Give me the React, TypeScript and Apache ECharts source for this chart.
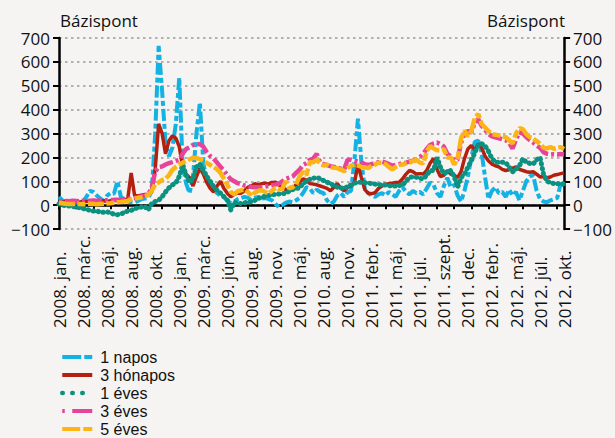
import React, { useEffect, useRef } from "react";
import * as echarts from "echarts";

const tickLabels = [
  "2008. jan.", "2008. márc.", "2008. máj.", "2008. aug.", "2008. okt.",
  "2009. jan.", "2009. márc.", "2009. jún.", "2009. aug.", "2009. nov.",
  "2010. máj.", "2010. aug.", "2010. nov.",
  "2011. febr.", "2011. máj.", "2011. júl.", "2011. szept.", "2011. dec.",
  "2012. febr.", "2012. máj.", "2012. júl.", "2012. okt.",
];
const POINTS_PER_LABEL = 7;

const napos1 = [
  35, 20, 15, 15, 12, 10, 12, 15,
  35, 60, 55, 40, 28, 18, 40, 50,
  48, 100, 35, 25, 15, 12, 10, 18,
  25, 28, 30, 60, 300, 667, 480, 260,
  205, 240, 340, 535, 160, 90, 50, 120,
  300, 430, 175, 110, 80, 60, 50, 40,
  35, 20, 8, 15, 25, 30, 35, 30,
  20, 30, 35, 28, 30, 25, 20, 5,
  -8, 0, 10, 15, 12, 20, 30, 50,
  75, 70, 50, 65, 55, 50, 20, 5,
  15, 40, 50, 35, 55, 60, 190, 362,
  180, 70, 50, 40, 35, 45, 50, 40,
  55, 45, 35, 60, 75, 55, 45, 60,
  50, 55, 45, 70, 95, 85, 50, 35,
  80, 115, 75, 85, 40, 15, 60, 120,
  200, 265, 270, 220, 115, 25, 60, 75,
  50, 55, 35, 65, 40, 55, 20, 60,
  100, 120, 125, 60, 25, 15, 12, 20,
  25, 30, 90, 80,
];

const honapos3 = [
  15, 12, 15, 12, 15, 15, 12, 15,
  15, 18, 15, 12, 15, 18, 15, 18,
  20, 18, 22, 20, 25, 135, 40, 38,
  42, 45, 45, 55, 150, 340, 300, 215,
  270, 290, 280, 245, 160, 130, 115, 80,
  120, 155, 130, 95, 70, 55, 80, 100,
  70, 50, 35, 45, 50, 50, 60, 75,
  80, 90, 85, 90, 92, 88, 95, 96,
  85, 75, 65, 60, 70, 85, 95, 110,
  105, 90, 88, 85, 80, 75, 70, 60,
  75, 90, 70, 60, 75, 80, 95, 170,
  115, 65, 50, 48, 52, 70, 80, 88,
  90, 92, 95, 96, 110, 130, 145, 140,
  130, 132, 130, 145, 175, 195, 150, 120,
  125, 145, 130, 125, 115, 140, 195, 235,
  250, 230, 257, 240, 205, 185, 172, 165,
  160, 150, 145, 148, 155, 160, 150, 145,
  140, 138, 140, 130, 118, 120, 115, 118,
  125, 128, 132, 135,
];

const eves1 = [
  5, 0, -3, -4, -6, -8, -11, -14,
  -18, -22, -25, -24, -30, -30, -28, -33,
  -38, -40, -38, -30, -25, -22, -15, -11,
  -8, -5, -20, 8, 15, 20, 35, 55,
  72, 85, 92, 120, 170, 125, 95, 110,
  160, 172, 145, 120, 100, 78, 62, 50,
  35, 20, -20, 12, 8, 7, 10, 12,
  14, 20, 28, 32, 38, 40, 45, 45,
  47, 48, 50, 58, 65, 70, 72, 90,
  100, 108, 112, 117, 110, 103, 96, 90,
  82, 75, 72, 70, 78, 85, 92, 96,
  96, 94, 92, 90, 88, 86, 85, 84,
  82, 80, 80, 82, 85, 100, 117, 118,
  117, 112, 110, 125, 145, 145, 200, 160,
  131, 140, 145, 120, 75, 115, 130, 160,
  185, 220, 250, 257, 248, 225, 195, 180,
  180, 180, 178, 160, 140, 150, 165, 195,
  180, 175, 172, 190, 200, 130, 100, 95,
  90, 90, 90, 90,
];

const eves3 = [
  17, 16, 17, 16, 18, 17, 16, 18,
  17, 18, 19, 18, 19, 20, 20, 21,
  22, 22, 24, 25, 27, 28, 30, 32,
  36, 40, 45, 75, 140, 160, 162, 170,
  176, 180, 185, 190, 215, 235, 242, 252,
  257, 255, 245, 222, 205, 195, 178, 160,
  145, 125, 108, 100, 92, 88, 82, 80,
  76, 75, 75, 76, 78, 80, 83, 86,
  90, 100, 110, 115, 120, 135, 148, 168,
  175, 190, 195, 215, 178, 172, 168, 163,
  160, 157, 153, 150, 190, 190, 186, 182,
  178, 172, 168, 172, 175, 180, 182, 178,
  172, 165, 168, 172, 176, 178, 182, 186,
  190, 200, 215, 235, 252, 258, 262, 255,
  245, 215, 205, 188, 190, 260, 300, 310,
  305, 345, 360, 332, 315, 298, 288, 284,
  280, 276, 272, 260, 237, 275, 305, 300,
  285, 272, 262, 250, 240, 222, 215, 212,
  213, 212, 214, 212,
];

const eves5 = [
  10, 8, 6, 5, 5, 6, 5, 4,
  5, 6, 5, 4, 5, 6, 7, 8,
  10, 12, 13, 15, 18, 24, 27, 30,
  33, 38, 42, 60, 88, 95, 105, 110,
  125, 148, 160, 170, 178, 185, 192, 198,
  197, 193, 185, 177, 168, 160, 150, 135,
  110, 85, 55, 45, 58, 62, 65, 55,
  38, 52, 60, 62, 55, 48, 60, 72,
  65, 70, 100, 70, 75, 86, 120, 140,
  125, 180, 180, 190, 175, 165, 170, 160,
  156, 155, 148, 142, 155, 165, 170, 166,
  160, 158, 155, 165, 170, 178, 178, 172,
  160, 150, 160, 168, 170, 175, 178, 185,
  190, 178, 175, 225, 248, 237, 230, 230,
  235, 200, 200, 170, 195, 280, 312, 288,
  310, 365, 382, 340, 325, 310, 298, 295,
  292, 288, 285, 272, 258, 300, 322, 318,
  298, 285, 278, 268, 257, 240, 238, 243,
  236, 240, 243, 235,
];

const seriesNames = ["1 napos", "3 hónapos", "1 éves", "3 éves", "5 éves"];
const seriesColors = ["#14B1E3", "#B3200F", "#0B9180", "#E8439A", "#FDB515"];

const FONT = "'Open Sans', 'DejaVu Sans', sans-serif";
const LEGEND_FONT = "'Liberation Sans', Arial, sans-serif";

export default function App() {
  const ref = useRef<HTMLDivElement>(null);
  useEffect(() => {
    document.body.style.margin = "0";
    if (!ref.current) return;
    const chart = echarts.init(ref.current, undefined, { renderer: "svg" });
    const categories = napos1.map((_, i) =>
      i % POINTS_PER_LABEL === 0 ? tickLabels[i / POINTS_PER_LABEL] : ""
    );
    const fmt = (v: number) => (v < 0 ? "\u2212" + Math.abs(v) : String(v));
    const yBase = {
      type: "value",
      min: -100,
      max: 700,
      interval: 100,
      axisLine: { show: true, lineStyle: { color: "#000", width: 2.5 } },
      axisTick: { show: true, inside: false, length: 6, lineStyle: { color: "#000", width: 2 } },
      axisLabel: { color: "#111", fontFamily: FONT, fontSize: 17, margin: 9, formatter: fmt },
    };
    const dataArrays = [napos1, honapos3, eves1, eves3, eves5];
    const chartStyles: any[] = [
      { width: 4, type: [12, 3, 5, 3] },
      { width: 3.5, type: "solid" },
      { width: 5, type: [0.5, 4.5], cap: "round" },
      { width: 4.5, type: [3, 3, 14, 3] },
      { width: 4.5, type: [16, 2.5, 8, 2.5] },
    ];
    const legendStyles: any[] = [
      { width: 4, type: [19, 3, 8, 3] },
      { width: 4, type: "solid" },
      { width: 4.5, type: [0.5, 9.5], cap: "round" },
      { width: 4, type: [2.5, 7.5, 20, 5] },
      { width: 4, type: [18, 3, 9, 3] },
    ];
    chart.setOption({
      animation: false,
      backgroundColor: "#F5F4F2",
      grid: { left: 59, right: 49, top: 38, bottom: 209, containLabel: false },
      xAxis: [
        {
          type: "category",
          data: categories,
          boundaryGap: false,
          position: "bottom",
          axisLine: { show: true, onZero: true, lineStyle: { color: "#000", width: 2.5 } },
          axisTick: { show: true, interval: 4, length: 4, lineStyle: { color: "#000", width: 2 } },
          axisLabel: { show: false },
          splitLine: { show: false },
        },
        {
          type: "category",
          data: categories,
          boundaryGap: false,
          position: "bottom",
          axisLine: { show: false, onZero: false },
          axisTick: { show: false },
          axisLabel: {
            show: true,
            interval: POINTS_PER_LABEL - 1,
            rotate: 90,
            align: "left",
            verticalAlign: "middle",
            margin: 99,
            color: "#111",
            fontFamily: FONT,
            fontSize: 17,
          },
          splitLine: { show: false },
        },
      ],
      yAxis: [
        {
          ...yBase,
          position: "left",
          splitLine: { show: true, lineStyle: { color: "#9A9A9A", width: 1.5, type: [2.5, 3.5] } },
        },
        { ...yBase, position: "right", splitLine: { show: false } },
      ],
      legend: {
        orient: "vertical",
        left: 60,
        top: 348,
        padding: 0,
        itemWidth: 30,
        itemHeight: 14,
        itemGap: 0,
        itemStyle: { opacity: 0, borderWidth: 0 },
        textStyle: { color: "#111", fontFamily: LEGEND_FONT, fontSize: 16, lineHeight: 18, padding: [0, 0, 0, 3] },
        data: seriesNames.map((n, k) => ({ name: n, lineStyle: legendStyles[k] })),
      },
      graphic: [
        {
          type: "text",
          left: 60,
          top: 12,
          style: { text: "Bázispont", fill: "#111", font: `17px ${FONT}` },
        },
        {
          type: "text",
          right: 50,
          top: 12,
          style: { text: "Bázispont", fill: "#111", font: `17px ${FONT}` },
        },
      ],
      series: seriesNames.map((n, k) => ({
        name: n,
        type: "line",
        xAxisIndex: 0,
        yAxisIndex: 0,
        data: dataArrays[k],
        symbol: "none",
        showSymbol: false,
        color: seriesColors[k],
        lineStyle: { color: seriesColors[k], ...chartStyles[k] },
      })),
    });
    return () => chart.dispose();
  }, []);
  return (
    <div
      ref={ref}
      style={{ position: "absolute", left: 0, top: 0, width: 615, height: 438 }}
    />
  );
}
